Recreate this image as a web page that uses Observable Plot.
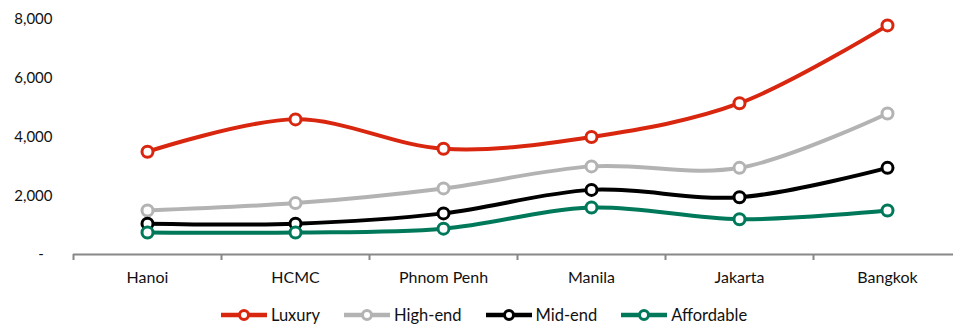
<!DOCTYPE html>
<html>
<head>
<meta charset="utf-8">
<script src="https://cdn.jsdelivr.net/npm/d3@7"></script>
<script src="https://cdn.jsdelivr.net/npm/@observablehq/plot@0.6"></script>
<style>
  html, body { margin: 0; padding: 0; background: #fff; }
  #chart { width: 953px; height: 298px; }
  .legend { display: flex; justify-content: center; align-items: center; height: 30px; margin-top: 2px; font-family: Lato, "Open Sans", sans-serif; font-size: 16.5px; color: #111; padding-left: 14px; }
  .legend .item { display: flex; align-items: center; margin: 0 11.5px; }
  .legend svg { margin-right: 3px; }
</style>
</head>
<body>
<div id="chart"></div>
<script>
const cities = ["Hanoi", "HCMC", "Phnom Penh", "Manila", "Jakarta", "Bangkok"];
const seriesNames = ["Luxury", "High-end", "Mid-end", "Affordable"];
const luxury = [3500, 4600, 3600, 4000, 5150, 7800];
const highEnd = [1500, 1750, 2250, 3000, 2950, 4800];
const midEnd = [1050, 1050, 1400, 2200, 1950, 2950];
const affordable = [750, 750, 880, 1600, 1200, 1500];
const yTicks = [0, 2000, 4000, 6000, 8000];
const colors = ["#D9260F", "#B3B3B3", "#000000", "#00785A"];

const seriesValues = [luxury, highEnd, midEnd, affordable];
const data = [];
seriesNames.forEach((s, k) => {
  seriesValues[k].forEach((v, i) => data.push({series: s, city: cities[i], xi: i + 0.5, value: v}));
});

const font = "Lato, 'Open Sans', sans-serif";
const marks = [
  Plot.axisY({ticks: yTicks, tickSize: 0, tickPadding: 21, fontSize: 15, label: null,
    tickFormat: d => d === 0 ? "-\u2007" : d3.format(",")(d), fill: "#111"}),
  Plot.axisX({ticks: d3.range(0, 7), tickSize: 6, tickFormat: () => "", label: null, stroke: "#888", strokeWidth: 2}),
  Plot.ruleY([0], {stroke: "#888", strokeWidth: 2}),
  Plot.axisX({ticks: cities.map((c, i) => i + 0.5), tickSize: 0, tickPadding: 17, fontSize: 16, label: null,
    tickFormat: d => cities[Math.round(d - 0.5)], fill: "#111"})
];
seriesNames.forEach(s => {
  const sub = data.filter(d => d.series === s);
  marks.push(Plot.line(sub, {x: "xi", y: "value", stroke: "series", strokeWidth: 4, curve: "catmull-rom"}));
  marks.push(Plot.dot(sub, {x: "xi", y: "value", stroke: "series", fill: "white", r: 5.5, strokeWidth: 3}));
});

const chart = Plot.plot({
  width: 953,
  height: 298,
  marginTop: 19,
  marginBottom: 44,
  marginLeft: 73,
  marginRight: 0,
  style: {fontFamily: font, background: "white"},
  x: {domain: [0, 6], range: [73, 961], axis: null},
  y: {domain: [0, 8000], axis: null},
  color: {domain: seriesNames, range: colors},
  marks
});
document.getElementById("chart").appendChild(chart);

const legend = document.createElement("div");
legend.className = "legend";
seriesNames.forEach((s, k) => {
  const item = document.createElement("div");
  item.className = "item";
  item.innerHTML = `<svg width="48" height="14"><line x1="1" x2="47" y1="7" y2="7" stroke="${colors[k]}" stroke-width="4.5"/><circle cx="24" cy="7" r="4.5" fill="white" stroke="${colors[k]}" stroke-width="3"/></svg><span>${s}</span>`;
  legend.appendChild(item);
});
document.body.appendChild(legend);
</script>
</body>
</html>
